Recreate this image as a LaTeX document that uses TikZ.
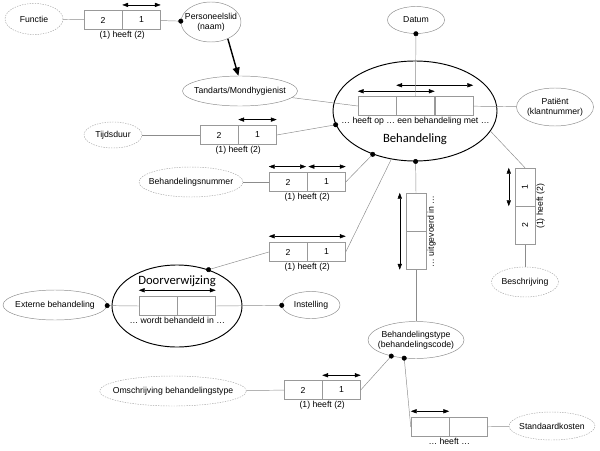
\documentclass[tikz,border=0pt]{standalone}
\usepackage{fontspec}
\setmainfont{Liberation Sans}
\newfontfamily\calibri{Carlito}
\usetikzlibrary{arrows.meta, positioning, shapes.geometric}

\begin{document}
\begin{tikzpicture}[
    x=0.03cm, y=-0.03cm,
    font=\fontsize{7.4}{8.6}\selectfont,
    entity/.style={
        ellipse,
        draw=black!45,
        align=center,
        inner xsep=-0.25cm,
        inner ysep=-0.05cm
    },
    value/.style={
        entity,
        draw=black!35,
        dash pattern=on 1.2pt off 1pt
    },
    nested/.style={
        ellipse,
        draw=black,
        line width=0.8pt,
        inner sep=0pt
    },
    role/.style={
        draw=black!40,
        minimum width=1.14cm,
        minimum height=0.57cm,
        inner sep=0pt
    },
    vrole/.style={
        role,
        minimum width=0.6cm,
        minimum height=1.14cm
    },
    link/.style={
        draw=black!45
    },
    mand/.style={
        -{Circle[length=4.2pt,color=black]},
        shorten >=-2.1pt
    },
    uniq/.style={
        {Triangle[length=5pt,width=3.6pt]}-{Triangle[length=5pt,width=3.6pt]},
        black
    },
    subtype/.style={
        -{Triangle[length=7pt,width=6pt]},
        line width=1.2pt
    },
    reading/.style={
        inner sep=1pt
    },
    objname/.style={
        font=\calibri\fontsize{10.8}{13}\selectfont
    }
]
\useasboundingbox (0,0) rectangle (600,450);

% Nodes
\node (behandeling) [nested, minimum width=4.92cm, minimum height=3.0cm] at (415,111) {};
\node (behlbl) [objname] at (415,139) {Behandeling};
\node (doorverwijzing) [nested, minimum width=3.9cm, minimum height=2.46cm] at (177,306) {};
\node (doorlbl) [objname] at (177,281) {Doorverwijzing};

\node (functie) [value, minimum width=1.74cm, minimum height=0.93cm] at (34,19) {Functie};
\node (personeelslid) [entity, minimum width=1.8cm, minimum height=1.2cm] at (211,22) {Personeelslid\\(naam)};
\node (tandarts) [entity, minimum width=3.45cm, minimum height=0.9cm] at (240,91) {Tandarts/Mondhygienist};
\node (datum) [entity, minimum width=1.71cm, minimum height=0.81cm] at (416,20) {Datum};
\node (patient) [entity, minimum width=2.31cm, minimum height=1.14cm] at (555,107) {Patiënt\\(klantnummer)};
\node (tijdsduur) [value, minimum width=1.74cm, minimum height=0.78cm] at (113,135) {Tijdsduur};
\node (behnr) [value, minimum width=3.12cm, minimum height=0.9cm] at (191,182) {Behandelingsnummer};
\node (beschrijving) [value, minimum width=2.01cm, minimum height=0.9cm] at (525,282) {Beschrijving};
\node (externe) [entity, minimum width=3.12cm, minimum height=0.9cm] at (55,305) {Externe behandeling};
\node (instelling) [entity, minimum width=1.74cm, minimum height=0.81cm] at (311,305) {Instelling};
\node (behtype) [entity, minimum width=2.88cm, minimum height=1.11cm] at (416,340) {Behandelingstype\\(behandelingscode)};
\node (omschrijving) [value, minimum width=4.2cm, minimum height=0.9cm] at (173,391) {Omschrijving behandelingstype};
\node (standaardkosten) [value, minimum width=2.58cm, minimum height=0.84cm] at (552,426) {Standaardkosten};

% fact types
\node (f1a) [role] at (103,20) {2};
\node (f1b) [role, right=0pt of f1a] {1};
\node (f1lbl) [reading, below=0pt of f1a.south east] {(1) heeft (2)};

\node (f2a) [role] at (377,106) {};
\node (f2b) [role, right=0pt of f2a] {};
\node (f2c) [role, right=0pt of f2b] {};
\node (f2lbl) [reading, below=0pt of f2b.south] {\dots\ heeft op \dots\ een behandeling met \dots};

\node (f3a) [role] at (219,135) {2};
\node (f3b) [role, right=0pt of f3a] {1};
\node (f3lbl) [reading, below=0pt of f3a.south east] {(1) heeft (2)};

\node (f4a) [role] at (288,182) {2};
\node (f4b) [role, right=0pt of f4a] {1};
\node (f4lbl) [reading, below=0pt of f4a.south east] {(1) heeft (2)};

\node (f5a) [role] at (288,252) {2};
\node (f5b) [role, right=0pt of f5a] {1};
\node (f5lbl) [reading, below=0pt of f5a.south east] {(1) heeft (2)};

\node (f6a) [vrole] at (416,212) {};
\node (f6b) [vrole, below=0pt of f6a] {};
\node (f6lbl) [reading, rotate=90, anchor=north] at (f6a.south east) {\dots\ uitgevoerd in \dots};

\node (f7a) [vrole] at (525,187) {\rotatebox{90}{1}};
\node (f7b) [vrole, below=0pt of f7a] {\rotatebox{90}{2}};
\node (f7lbl) [reading, rotate=90, anchor=north] at (f7a.south east) {(1) heeft (2)};

\node (f8a) [role] at (158,306) {};
\node (f8b) [role, right=0pt of f8a] {};
\node (f8lbl) [reading, below=0pt of f8a.south east] {\dots\ wordt behandeld in \dots};

\node (f9a) [role] at (303,390) {2};
\node (f9b) [role, right=0pt of f9a] {1};
\node (f9lbl) [reading, below=0pt of f9a.south east] {(1) heeft (2)};

\node (f10a) [role] at (430,427) {};
\node (f10b) [role, right=0pt of f10a] {};
\node (f10lbl) [reading, below=0pt of f10a.south east] {\dots\ heeft \dots};

% uniqueness
\draw [uniq] ([yshift=0.16cm]f1b.north west) -- ([yshift=0.16cm]f1b.north east);
\draw [uniq] ([yshift=0.15cm]f2a.north west) -- ([yshift=0.15cm]f2b.north east);
\draw [uniq] ([yshift=0.33cm]f2b.north west) -- ([yshift=0.33cm]f2c.north east);
\draw [uniq] ([yshift=0.17cm]f3b.north west) -- ([yshift=0.17cm]f3b.north east);
\draw [uniq] ([yshift=0.17cm]f4a.north west) -- ([yshift=0.17cm,xshift=-1pt]f4a.north east);
\draw [uniq] ([yshift=0.17cm,xshift=1pt]f4b.north west) -- ([yshift=0.17cm]f4b.north east);
\draw [uniq] ([yshift=0.18cm]f5a.north west) -- ([yshift=0.18cm]f5b.north east);
\draw [uniq] ([xshift=-0.18cm]f6a.north west) -- ([xshift=-0.18cm]f6b.south west);
\draw [uniq] ([xshift=-0.18cm]f7a.north west) -- ([xshift=-0.18cm]f7a.south west);
\draw [uniq] ([yshift=0.18cm]f8a.north west) -- ([yshift=0.18cm]f8b.north east);
\draw [uniq] ([yshift=0.15cm]f9b.north west) -- ([yshift=0.15cm]f9b.north east);
\draw [uniq] ([yshift=0.18cm]f10a.north west) -- ([yshift=0.18cm]f10a.north east);

% Paths
\draw [link] (functie) -- (f1a);
\draw [link, mand] (f1b) -- (personeelslid);
\draw [subtype] (personeelslid.-45) -- (tandarts.96);
\draw [link] (tandarts) -- (f2a.west);
\draw [link, mand] (f2b.north) -- (datum);
\draw [link] (f2c) -- (patient);
\draw [link] (tijdsduur) -- (f3a);
\draw [link, mand] (f3b.east) -- (behandeling);
\draw [link] (behnr) -- (f4a);
\draw [link, mand] (f4b.east) -- (behandeling);
\draw [link, mand] (f5a.west) -- (doorverwijzing.49);
\draw [link] (f5b.east) -- (behandeling);
\draw [link, mand] (f6a.north) -- (behandeling);
\draw [link] (f6b.south) -- (behtype);
\draw [link] (f7a.north) -- (behandeling.-15);
\draw [link] (f7b.south) -- (beschrijving);
\draw [link, mand] (f8a.west) -- (externe);
\draw [link, mand] (f8b.east) -- (instelling);
\draw [link] (omschrijving) -- (f9a);
\draw [link, mand] (f9b.east) -- (behtype.213);
\draw [link, mand] (f10a.west) -- (behtype.237);
\draw [link] (f10b) -- (standaardkosten);

\end{tikzpicture}
\end{document}
